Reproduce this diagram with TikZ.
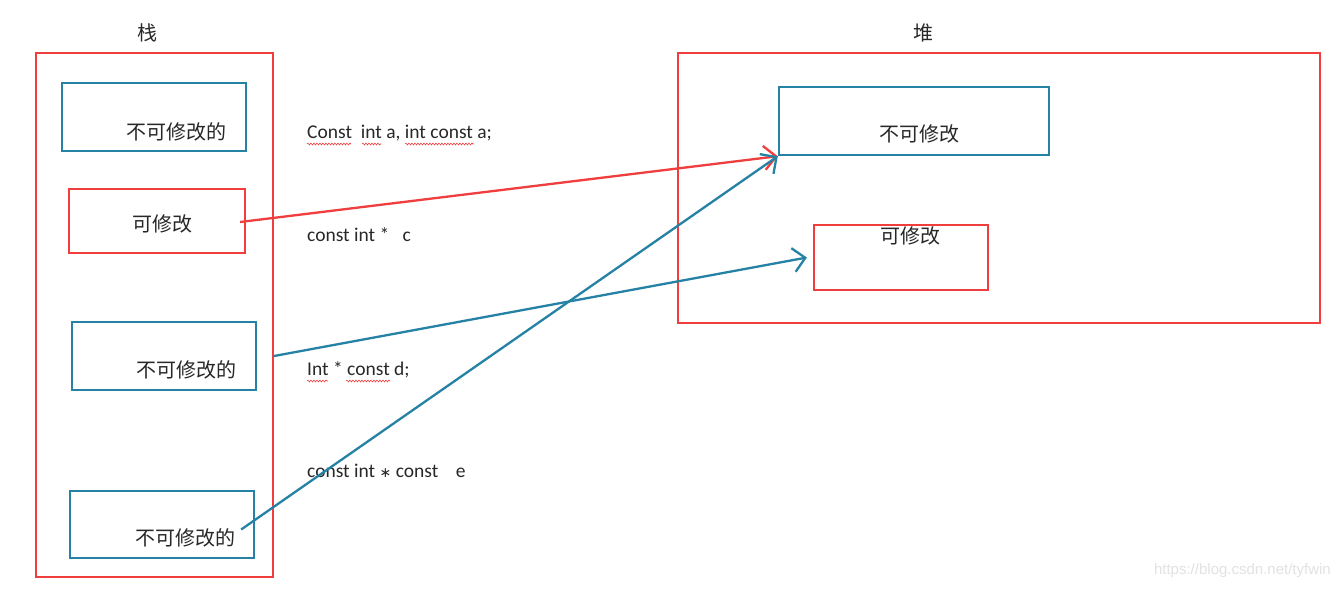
\documentclass[tikz,border=0pt]{standalone}
\usepackage{fontspec}
\setmainfont{Carlito}
\newfontfamily\cjk{Noto Sans CJK SC}
\newfontfamily\wmfont{Liberation Sans}
\newfontfamily\symfont{DejaVu Sans}
\usetikzlibrary{arrows.meta,decorations.pathmorphing,calc}
\definecolor{boxred}{RGB}{240,62,62}
\definecolor{boxblue}{RGB}{38,130,165}
\definecolor{txt}{RGB}{40,40,40}
\definecolor{wm}{RGB}{226,226,226}
\tikzset{
  redbox/.style={draw=boxred,line width=2.2pt},
  bluebox/.style={draw=boxblue,line width=2.4pt},
  cn/.style={font=\cjk\fontsize{20}{20}\selectfont,text=txt,inner sep=0pt},
  code/.style={font=\fontsize{19.5}{19.5}\selectfont,text=txt,inner sep=0pt,anchor=west},
  redarrow/.style={draw=boxred,line width=2.3pt,-{Straight Barb[length=12pt,width=24pt,line width=2.3pt]}},
  bluearrow/.style={draw=boxblue,line width=2.3pt,-{Straight Barb[length=12pt,width=24pt,line width=2.3pt]}},
  squiggle/.style={draw=boxred,line width=0.6pt,decorate,decoration={snake,amplitude=0.9pt,segment length=3pt}}
}
\begin{document}
\begin{tikzpicture}[x=1pt,y=-1pt]
\useasboundingbox[fill=white] (0,0) rectangle (1340,589);
% stack
\node[cn] (stacklabel) at (147,33) {栈};
\node[redbox,inner sep=0pt,minimum width=237pt,minimum height=524pt] (stack) at (154.5,315) {};
\node[bluebox,inner sep=0pt,minimum width=184pt,minimum height=68pt] (s1) at (154,117) {};
\node[cn] (s1t) at (176,132) {不可修改的};
\node[redbox,inner sep=0pt,minimum width=176pt,minimum height=64pt] (s2) at (157,221) {};
\node[cn] (s2t) at (162,224) {可修改};
\node[bluebox,inner sep=0pt,minimum width=184pt,minimum height=68pt] (s3) at (164,356) {};
\node[cn] (s3t) at (186,370) {不可修改的};
\node[bluebox,inner sep=0pt,minimum width=184pt,minimum height=67pt] (s4) at (162,524.5) {};
\node[cn] (s4t) at (185,538) {不可修改的};
% heap
\node[cn] (heaplabel) at (923,33) {堆};
\node[redbox,inner sep=0pt,minimum width=642pt,minimum height=270pt] (heap) at (999,188) {};
\node[bluebox,inner sep=0pt,minimum width=270pt,minimum height=68pt] (h1) at (914,121) {};
\node[cn] (h1t) at (919,134) {不可修改};
\node[redbox,inner sep=0pt,minimum width=174pt,minimum height=65pt] (h2) at (901,257.5) {};
\node[cn] (h2t) at (910,236) {可修改};
% code labels
\node[code] (c1) at (307,133) {Const\ \ int a, int const a;};
\node[code] (c2) at (307,235) {const int *\ \ \ c};
\node[code] (c3) at (307,370) {Int * const d;};
\node[code] (c4) at (307,471) {const int {\symfont\fontsize{14}{14}\selectfont ∗} const\ \ \ \ e};
% spell-check squiggles
\draw[squiggle] (307,144) -- (351,144);
\draw[squiggle] (362,144) -- (381,144);
\draw[squiggle] (405,144) -- (474,144);
\draw[squiggle] (307,381) -- (328,381);
\draw[squiggle] (346,381) -- (390,381);
% connectors
\coordinate (a1) at ($(s2.east)+(-6,1)$);
\coordinate (a3) at ($(stack.east)+(0,41)$);
\coordinate (a4) at ($(s4.east)+(-14,5)$);
\draw[redarrow] (a1) -- (h1.south west);
\draw[bluearrow] (a4) -- (h1.south west);
\draw[bluearrow] (a3) -- ($(h2.west)+(-6,0)$);
% watermark
\node[font=\wmfont\fontsize{15}{15}\selectfont,text=wm,anchor=east,inner sep=0pt] (wmark) at (1331,571) {https://blog.csdn.net/tyfwin};
\end{tikzpicture}
\end{document}
